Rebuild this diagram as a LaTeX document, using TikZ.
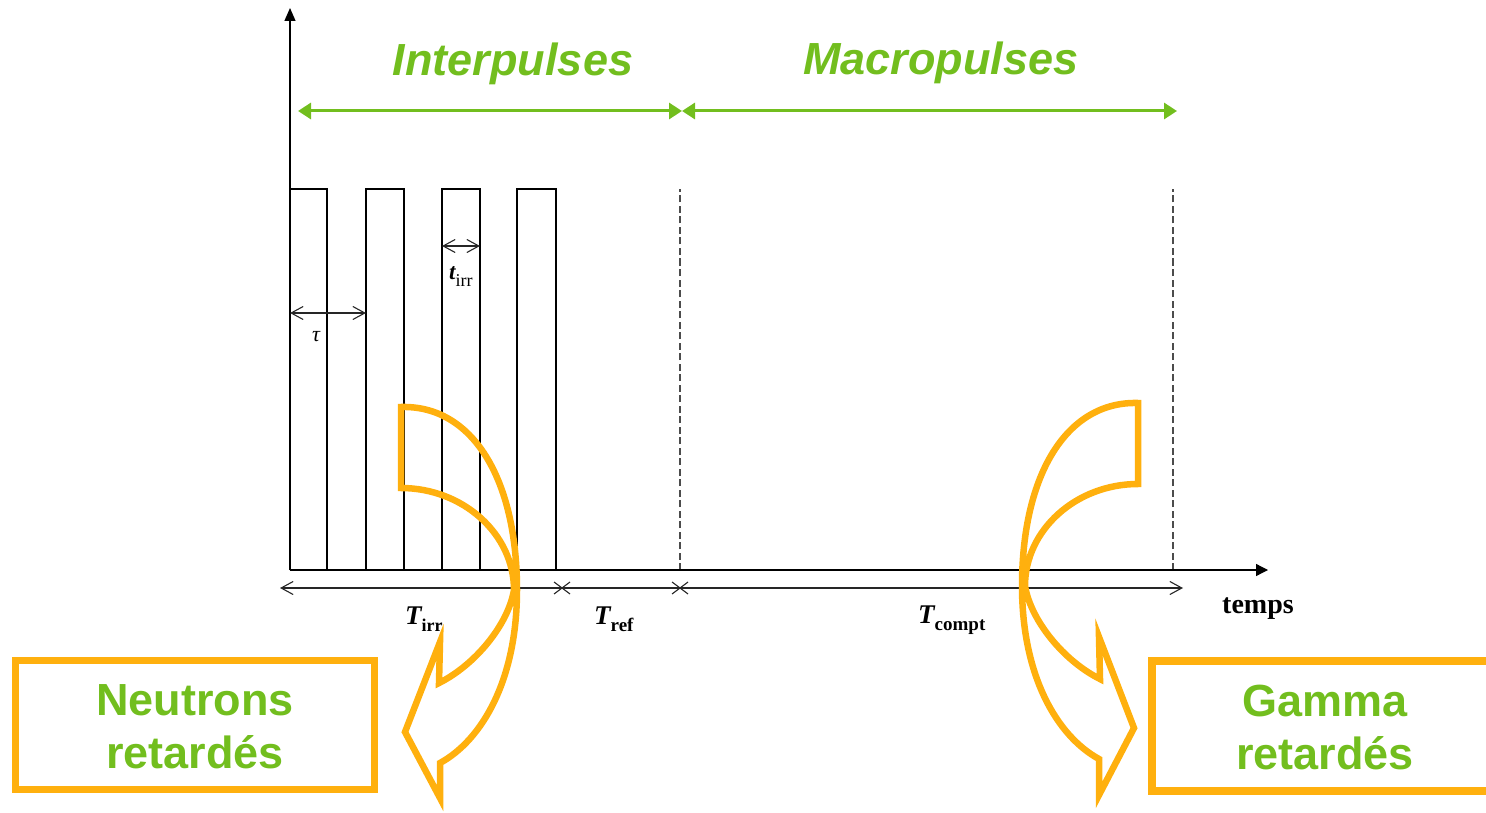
\documentclass[tikz,border=0pt]{standalone}
\usepackage{fontspec}
\setmainfont{Liberation Serif}
\newfontfamily\arialfont{Liberation Sans}
\usetikzlibrary{arrows.meta}
\definecolor{mygreen}{RGB}{114,190,30}
\definecolor{myorange}{RGB}{255,176,14}
\begin{document}
\begin{tikzpicture}[x=1pt,y=-1pt,
  axisline/.style={line width=1.3pt, black},
  pulse/.style={line width=1.2pt, black},
  dashline/.style={line width=1.2pt, black!70, dash pattern=on 7pt off 3.5pt},
  dim/.style={line width=1.1pt, black!85, {Straight Barb[length=12pt,width=13pt]}-{Straight Barb[length=12pt,width=13pt]}},
  garrow/.style={line width=3pt, mygreen, {Triangle[length=13pt,width=16pt]}-{Triangle[length=13pt,width=16pt]}},
  orangeline/.style={line width=6.5pt, myorange, line join=miter, miter limit=10},
  greentitle/.style={inner sep=0, text=mygreen, font=\arialfont\bfseries\itshape\fontsize{45}{50}\selectfont},
  boxtext/.style={inner sep=0, text=mygreen, align=center, font=\arialfont\bfseries\fontsize{45}{53}\selectfont},
  lab/.style={inner sep=0, anchor=base west}
]
\useasboundingbox (0,0) rectangle (1486,813);
\begin{scope}
\clip (0,0) rectangle (1486,813);

% coordinates
\coordinate (O) at (290,570);
\coordinate (ytop) at (290,8);
\coordinate (xend) at (1268,570);

% pulses
\foreach \a/\b in {290/327, 366/404, 442/480, 517/556}{
  \draw[pulse] (\a,570) -- (\a,189) -- (\b,189) -- (\b,570);
}
% dashed lines
\coordinate (d1b) at (680,570); \coordinate (d1t) at (680,189);
\coordinate (d2b) at (1173,570); \coordinate (d2t) at (1173,189);
\draw[dashline] (d1b) -- (d1t);
\draw[dashline] (d2b) -- (d2t);

% axes
\draw[axisline, -{Triangle[length=13pt,width=11pt]}] (O) -- (ytop);
\draw[axisline, -{Triangle[length=12pt,width=12pt]}] (O) -- (xend);

% tau and t_irr
\coordinate (tauL) at (290,313); \coordinate (tauR) at (366,313);
\draw[dim] (tauL) -- (tauR);
\node[inner sep=0] (tau) at (316,337) {\fontsize{22}{22}\selectfont\itshape τ};
\coordinate (tiL) at (442,246); \coordinate (tiR) at (480,246);
\draw[dim] (tiL) -- (tiR);
\node[lab] (tirr) at (449,279) {\fontsize{23}{23}\selectfont\bfseries\itshape t\raisebox{-7pt}{\fontsize{18}{18}\selectfont\mdseries\upshape irr}};

% lower time axis
\coordinate (la) at (280,588); \coordinate (lb) at (1183,588);
\coordinate (c1) at (562,588); \coordinate (c2) at (680,588);
\draw[dim] (la) -- (lb);
\foreach \c in {c1,c2}{
  \draw[line width=1.1pt, black!85] ([shift={(-8,-6)}]\c) -- ([shift={(8,6)}]\c);
  \draw[line width=1.1pt, black!85] ([shift={(-8,6)}]\c) -- ([shift={(8,-6)}]\c);
}
\node[lab] (Tirr) at (405,624) {\fontsize{27}{27}\selectfont\bfseries\itshape T\raisebox{-7pt}{\fontsize{18}{18}\selectfont\upshape irr}};
\node[lab] (Tref) at (594,624) {\fontsize{27}{27}\selectfont\bfseries\itshape T\raisebox{-7pt}{\fontsize{19}{19}\selectfont\upshape ref}};
\node[lab] (Tcompt) at (918,623) {\fontsize{27}{27}\selectfont\bfseries\itshape T\raisebox{-7pt}{\fontsize{19}{19}\selectfont\upshape compt}};
\node[lab] (temps) at (1222,613) {\fontsize{28}{28}\selectfont\bfseries temps};

% green titles and arrows
\node[greentitle, anchor=base] (inter) at (513,76) {Interpulses};
\node[greentitle, anchor=base] (macro) at (941,75) {Macropulses};
\coordinate (g1) at (298,111); \coordinate (g2) at (682,111); \coordinate (g3) at (1177,111);
\draw[garrow] (g1) -- (g2);
\draw[garrow] (g2) -- (g3);

% orange curved arrows
\draw[orangeline] (401,407) .. controls (472,405) and (517,478) .. (517,590)
  .. controls (517,680) and (482,740) .. (440,763) -- (440,798) -- (405,732) -- (440,642) -- (439,683)
  .. controls (475,665) and (508,625) .. (514,590)
  .. controls (514,534) and (463,488) .. (401,488) -- cycle;
\draw[orangeline] (1138,403) .. controls (1067,401) and (1022,474) .. (1022,586)
  .. controls (1022,676) and (1057,736) .. (1099,759) -- (1099,795) -- (1134,728) -- (1099,637) -- (1100,679)
  .. controls (1064,661) and (1031,621) .. (1025,586)
  .. controls (1025,530) and (1076,484) .. (1138,484) -- cycle;

% boxes
\draw[line width=7pt, myorange] (15.5,660) rectangle (374.5,789.5);
\node[boxtext] (neutrons) at (195,727) {Neutrons\\retardés};
\draw[line width=8pt, myorange] (1152,661) rectangle (1500,791);
\node[boxtext] (gamma) at (1325,728) {Gamma\\retardés};
\end{scope}
\end{tikzpicture}
\end{document}
